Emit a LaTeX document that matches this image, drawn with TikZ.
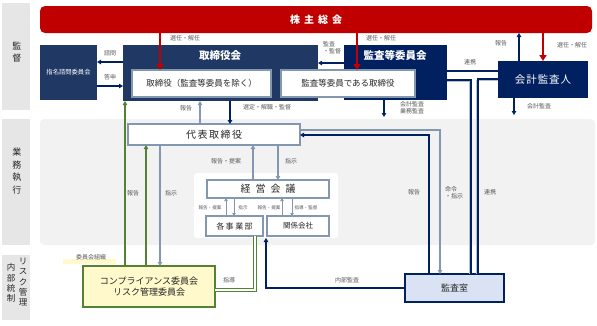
\documentclass[tikz,border=0pt]{standalone}
\usepackage{fontspec}
\setmainfont{Noto Sans CJK JP}
\usetikzlibrary{arrows.meta}
\definecolor{redc}{HTML}{C00000}
\definecolor{navyA}{HTML}{203864}
\definecolor{navyB}{HTML}{002060}
\definecolor{gbc}{HTML}{8497B0}
\definecolor{greenc}{HTML}{548235}
\definecolor{yellowc}{HTML}{FFF9CC}
\definecolor{bandc}{HTML}{E6E6E6}
\definecolor{bgc}{HTML}{F2F2F2}
\definecolor{ksc}{HTML}{DAE3F3}
\definecolor{lblc}{HTML}{595959}
\definecolor{txtc}{HTML}{262626}
\begin{document}
\begin{tikzpicture}[x=1pt,y=-1pt,
  every node/.style={inner sep=0pt,outer sep=0pt},
  boxnw/.style={anchor=north west},
  nbA/.style={boxnw, fill=navyA},
  nbB/.style={boxnw, fill=navyB},
  wbox/.style={boxnw, fill=white, draw=gbc, line width=1.8pt},
  wtxt/.style={text=white},
  lbl/.style={font=\fontsize{6}{7}\selectfont, text=lblc, align=left},
  smalllbl/.style={font=\fontsize{4.6}{5}\selectfont, text=lblc},
  bandtxt/.style={font=\fontsize{9}{12.5}\selectfont, text=txtc, align=center},
  narr/.style={draw=navyB, line width=1.3pt, -{Triangle[length=4pt,width=4.5pt]}},
  nline/.style={draw=navyB, line width=1.1pt},
  shadeline/.style={draw=gbc!60, line width=0.8pt},
  garr/.style={draw=gbc, line width=1.3pt, -{Triangle[length=4pt,width=4.5pt]}},
  sgarr/.style={draw=gbc, line width=1pt, -{Triangle[length=3pt,width=3.5pt]}},
  rarr/.style={draw=redc, line width=2pt, -{Triangle[length=6pt,width=7pt]}},
  grarr/.style={draw=greenc, line width=1.6pt, -{Triangle[length=4pt,width=4.5pt]}},
]
\useasboundingbox (0,0) rectangle (597,325);

% left bands
\node[boxnw, fill=bandc, minimum width=28pt, minimum height=107pt] (band1) at (2,3) {};
\node[boxnw, fill=bandc, minimum width=28pt, minimum height=126pt] (band2) at (2,119) {};
\node[boxnw, fill=bandc, minimum width=28pt, minimum height=65pt] (band3) at (2,255) {};
\node[bandtxt] (t1) at (17,52) {監\\督};
\node[bandtxt] (t2) at (17,171) {業\\務\\執\\行};
\node[bandtxt, font=\fontsize{8.5}{10.3}\selectfont] (t3a) at (23,282) {リ\\ス\\ク\\管\\理};
\node[bandtxt, font=\fontsize{8.5}{10.3}\selectfont] (t3b) at (11,283) {内\\部\\統\\制};

% background of business execution
\node[boxnw, fill=bgc, rounded corners=4pt, minimum width=555pt, minimum height=126pt] (bg) at (40,119) {};

% top boxes
\node[boxnw, fill=redc, rounded corners=5pt, minimum width=552pt, minimum height=27pt,
  font=\fontsize{10}{12}\selectfont\bfseries, text=white] (shu) at (40,6)
  {株\kern4pt 主\kern4pt 総\kern4pt 会};
\node[nbA, minimum width=57pt, minimum height=55pt, wtxt, font=\fontsize{6.3}{7}\selectfont] (shimei) at (40,45) {指名諮問委員会};
\node[nbA, minimum width=195pt, minimum height=56pt] (torikai) at (123,45) {};
\node[wtxt, font=\fontsize{10.5}{12}\selectfont\bfseries] (torikaiT) at (220,56) {取締役会};
\node[nbB, minimum width=103pt, minimum height=55pt] (kansakai) at (344,45) {};
\node[wtxt, font=\fontsize{10.5}{12}\selectfont\bfseries] (kansakaiT) at (395,55) {監査等委員会};
\node[wbox, minimum width=139pt, minimum height=27pt, font=\fontsize{8.5}{10}\selectfont, text=txtc] (tor) at (132,70) {取締役（監査等委員を除く）};
\node[wbox, minimum width=134pt, minimum height=27pt, font=\fontsize{8.5}{10}\selectfont, text=txtc] (kantor) at (281,70) {監査等委員である取締役};
\node[nbB, minimum width=90pt, minimum height=37pt, wtxt, font=\fontsize{10.5}{12}\selectfont] (kaikei) at (498,61) {会\kern1pt 計\kern1pt 監\kern1pt 査\kern1pt 人};

% execution
\node[wbox, line width=1.5pt, minimum width=172pt, minimum height=21pt, font=\fontsize{10}{12}\selectfont, text=txtc] (daihyo) at (128,124) {代\kern1.5pt 表\kern1.5pt 取\kern1.5pt 締\kern1.5pt 役};
\node[boxnw, fill=white, rounded corners=3pt, minimum width=144pt, minimum height=65pt] (cont) at (194,173) {};
\node[wbox, line width=1.5pt, minimum width=122pt, minimum height=18pt, font=\fontsize{10}{12}\selectfont, text=txtc] (keiei) at (207,180) {経\kern5pt 営\kern5pt 会\kern5pt 議};
\node[wbox, line width=1.5pt, minimum width=57pt, minimum height=20pt, font=\fontsize{8}{10}\selectfont, text=txtc] (jigyo) at (206,216) {各\kern1.5pt 事\kern1.5pt 業\kern1.5pt 部};
\node[wbox, line width=1.5pt, minimum width=62pt, minimum height=20pt, font=\fontsize{7.5}{9}\selectfont, text=txtc] (kankei) at (267,216) {関係会社};

% internal control
\node[boxnw, fill=yellowc, minimum width=53pt, minimum height=5pt] (ulin) at (63,259) {};
\node[lbl] (iinlbl) at (91,257) {委員会組織};
\node[boxnw, fill=yellowc, draw=greenc, line width=2pt, minimum width=132pt, minimum height=41pt, align=center,
  font=\fontsize{9}{11}\selectfont, text=txtc] (iinkai) at (83,266) {コンプライアンス委員会\\リスク管理委員会};
\node[boxnw, fill=ksc, draw=navyB, line width=2pt, minimum width=99pt, minimum height=28pt,
  font=\fontsize{9}{11}\selectfont, text=txtc] (kshitsu) at (405,274) {監査室};

% red arrows
\draw[rarr] (160,0 |- shu.south) -- (160,0 |- tor.north);
\draw[rarr] (357,0 |- shu.south) -- (357,0 |- kantor.north);
\draw[rarr] (543,0 |- shu.south) -- (543,0 |- kaikei.north);
\draw[narr] (519,0 |- kaikei.north) -- (519,0 |- shu.south);
\node[lbl] (l1) at (185,38) {選任・解任};
\node[lbl] (l2) at (381,38) {選任・解任};
\node[lbl] (l3) at (572,45) {選任・解任};
\node[lbl] (l4) at (501,43) {報告};

% committee
\draw[narr] (torikai.west |- 0,62) -- (shimei.east |- 0,62);
\draw[narr] (shimei.east |- 0,86) -- (torikai.west |- 0,86);
\node[lbl] (l5) at (110,53) {諮問};
\node[lbl] (l6) at (110,77) {答申};

% audit committee
\draw[narr] (kansakai.west |- 0,63) -- (torikai.east |- 0,63);
\node[lbl] (l7) at (332,48) {監査\\ ・監督};
\draw[nline, line width=1.5pt] (kansakai.east |- 0,71) -- (kaikei.west |- 0,71);
\node[lbl] (l8) at (470,62) {連携};
\coordinate (kaend) at (384,117);
\draw[narr] (kaend |- kansakai.south) -- (kaend);
\node[lbl] (l9) at (412,108) {会計監査\\業務監査};
\coordinate (kkend) at (514,115);
\draw[narr] (kkend |- kaikei.south) -- (kkend);
\node[lbl] (l10) at (539,106) {会計監査};

% lines to audit office
\draw[shadeline] (kansakai.east |- 0,81.6) -| (469.4,0 |- kshitsu.north);
\draw[nline] (kansakai.east |- 0,80) -| (471,0 |- kshitsu.north);
\draw[shadeline] (kaikei.west |- 0,80.6) -| (476.4,0 |- kshitsu.north);
\draw[nline] (kaikei.west |- 0,79) -| (478,0 |- kshitsu.north);
\draw[narr, line width=1.8pt] (429,0 |- kshitsu.north) |- (daihyo.east |- 0,135);
\draw[garr] (daihyo.east |- 0,130) -| (440,0 |- kshitsu.north);
\node[lbl] (l11) at (414,192) {報告};
\node[lbl] (l12) at (454,193) {命令\\ ・指示};
\node[lbl] (l13) at (490,192) {連携};

% board <-> representative
\draw[garr] (200,0 |- daihyo.north) -- (200,0 |- torikai.south);
\draw[narr] (230,0 |- torikai.south) -- (230,0 |- daihyo.north);
\node[lbl] (l14) at (186,108) {報告};
\node[lbl] (l15) at (267,107) {選定・解職・監督};

% representative <-> management meeting
\draw[garr] (253,0 |- keiei.north) -- (253,0 |- daihyo.south);
\draw[garr] (278,0 |- daihyo.south) -- (278,0 |- keiei.north);
\node[lbl] (l16) at (226,161) {報告・提案};
\node[lbl] (l17) at (291,161) {指示};

% management meeting <-> divisions
\draw[sgarr] (226,0 |- jigyo.north) -- (226,0 |- keiei.south);
\draw[sgarr] (234,0 |- keiei.south) -- (234,0 |- jigyo.north);
\draw[sgarr] (282,0 |- kankei.north) -- (282,0 |- keiei.south);
\draw[sgarr] (292,0 |- keiei.south) -- (292,0 |- kankei.north);
\node[smalllbl] (s1) at (210,208) {報告・提案};
\node[smalllbl] (s2) at (243,208) {指示};
\node[smalllbl] (s3) at (269,208) {報告・提案};
\node[smalllbl] (s4) at (306,208) {指導・監督};

% committee connections
\draw[grarr] (125,0 |- iinkai.north) -- (125,0 |- torikai.south);
\draw[grarr] (146,0 |- iinkai.north) -- (146,0 |- daihyo.south);
\draw[garr] (160,0 |- daihyo.south) -- (160,0 |- iinkai.north);
\node[lbl] (l18) at (133,193) {報告};
\node[lbl] (l19) at (171,193) {指示};
\draw[draw=greenc, line width=0.9pt, double=white, double distance=1.4pt] (iinkai.east |- 0,290) -| (255,0 |- jigyo.south);
\node[lbl] (l20) at (229,280) {指導};

% internal audit
\draw[narr] (kshitsu.west |- 0,288) -| (266,0 |- cont.south);
\node[lbl] (l21) at (347,280) {内部監査};
\end{tikzpicture}
\end{document}
